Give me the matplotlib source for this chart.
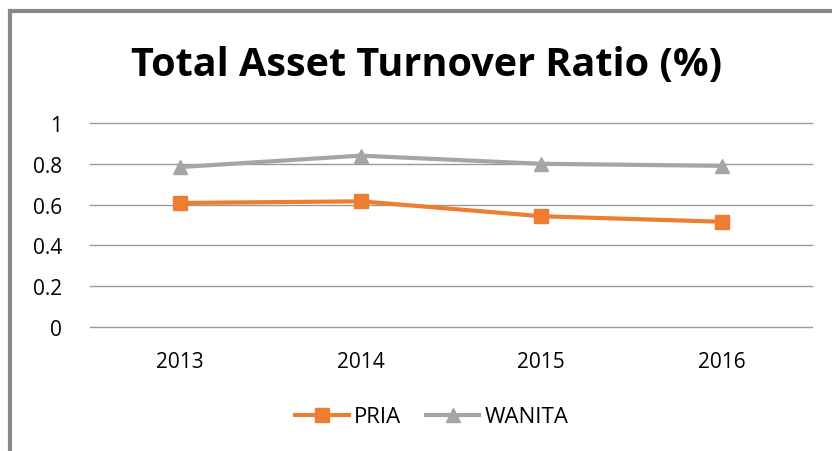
import matplotlib.pyplot as plt
from matplotlib.lines import Line2D

years = ["2013", "2014", "2015", "2016"]
pria = [0.608, 0.616, 0.543, 0.516]
wanita = [0.784, 0.84, 0.80, 0.79]

plt.rcParams["font.family"] = ["Open Sans", "DejaVu Sans"]

fig = plt.figure(figsize=(8.32, 4.52), dpi=100)
ax = fig.add_axes([90 / 832, 1 - 328 / 452, 722 / 832, 204 / 452])

x = list(range(len(years)))
ax.plot(x, pria, color="#ED7D31", lw=3, marker="s", ms=10, label="PRIA")
ax.plot(x, wanita, color="#A5A5A5", lw=3, marker="^", ms=10, label="WANITA")

ax.set_xlim(-0.5, len(years) - 0.5)
ax.set_ylim(0, 1)
ax.set_yticks([0, 0.2, 0.4, 0.6, 0.8, 1])
ax.set_yticklabels(["0", "0.2", "0.4", "0.6", "0.8", "1"])
ax.set_xticks(x)
ax.set_xticklabels(years)
ax.tick_params(length=0, labelsize=15)
ax.tick_params(axis="x", pad=17)
ax.tick_params(axis="y", pad=20)
ax.grid(axis="y", color="#999999", lw=1)
for gl in ax.get_ygridlines():
    gl.set_clip_on(False)
ax.set_axisbelow(True)
for s in ax.spines.values():
    s.set_visible(False)

fig.text(427 / 832, 1 - 66 / 452, "Total Asset Turnover Ratio (%)", ha="center", va="center",
         fontsize=28.5, fontweight="bold")

fig.legend(loc="center", bbox_to_anchor=(432 / 832, 1 - 418 / 452), ncol=2, frameon=False,
           fontsize=16, handlelength=2.4, columnspacing=1.1, handletextpad=0.25)

# outer chart border (partially cut in the reference)
fig.add_artist(Line2D([10 / 832, 10 / 832], [0, 1 - 12 / 452], color="#888888", lw=3))
fig.add_artist(Line2D([10 / 832, 1], [1 - 12 / 452, 1 - 12 / 452], color="#888888", lw=3))

fig.savefig("out.png", dpi=100)
